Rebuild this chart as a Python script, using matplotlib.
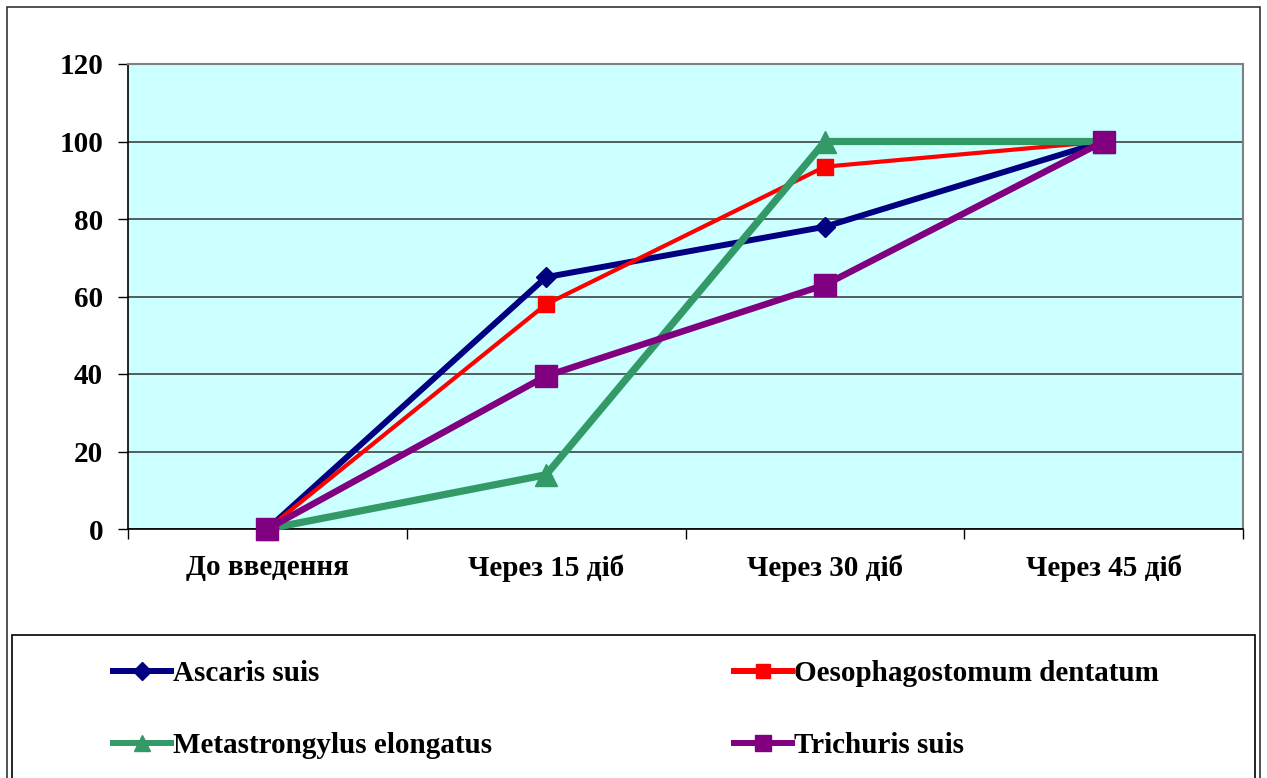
import numpy as np
import matplotlib.pyplot as plt
from matplotlib.lines import Line2D
from matplotlib.patches import Rectangle

categories = ["До введення", "Через 15 діб", "Через 30 діб", "Через 45 діб"]
ascaris = [0, 65, 78, 100]
oesophagostomum = [0, 58, 93.5, 100]
metastrongylus = [0, 14, 100, 100]
trichuris = [0, 39.5, 63, 100]

# name, values, colour, line width, marker, marker size, legend marker size
series = [
    ("Ascaris suis", ascaris, "#000080", 4.3, "D", 10.5, 9),
    ("Oesophagostomum dentatum", oesophagostomum, "#FF0000", 3.0, "s", 11.5, 10),
    ("Metastrongylus elongatus", metastrongylus, "#339966", 5.2, "^", 16, 12),
    ("Trichuris suis", trichuris, "#800080", 4.7, "s", 16, 11),
]

plt.rcParams['font.family'] = ['Liberation Serif', 'DejaVu Serif']
plt.rcParams['font.weight'] = 'bold'
FS = 21

W, H = 1267, 778
fig = plt.figure(figsize=(W / 100, H / 100), dpi=100)

# outer frame and legend frame
fig.patches.append(Rectangle((7 / W, -0.01), (1260 - 7) / W, 1 - 7 / H + 0.01,
                             transform=fig.transFigure, fill=False,
                             edgecolor='#333333', linewidth=1.2))
fig.patches.append(Rectangle((12 / W, -0.01), (1255 - 12) / W, (H - 635) / H + 0.01,
                             transform=fig.transFigure, fill=False,
                             edgecolor='black', linewidth=1.2))

ax = fig.add_axes([128 / W, (H - 529) / H, 1115 / W, 465 / H])
ax.set_facecolor('#CCFFFF')

x = np.arange(len(categories))
for name, vals, col, lw, mk, ms, lms in series:
    ax.plot(x, vals, color=col, linewidth=lw, marker=mk, markersize=ms,
            markerfacecolor=col, markeredgecolor=col, clip_on=False, zorder=3)

ax.set_xlim(-0.5, len(categories) - 0.5)
ax.set_ylim(0, 120)
ax.set_yticks(np.arange(0, 121, 20))
ax.yaxis.grid(True, color='#333333', linewidth=1.1)
ax.set_axisbelow(True)

ax.set_xticks(x)
ax.set_xticklabels(categories)
ax.set_xticks(np.arange(-0.5, len(categories), 1.0), minor=True)
ax.tick_params(axis='x', which='major', length=0, pad=18, labelsize=FS)
ax.tick_params(axis='x', which='minor', length=7, width=1, color='black')
ax.tick_params(axis='y', length=7, width=1, pad=11, labelsize=FS)

for s in ['top', 'right']:
    ax.spines[s].set_color('#808080')
    ax.spines[s].set_linewidth(1.5)
for s in ['left', 'bottom']:
    ax.spines[s].set_color('black')
    ax.spines[s].set_linewidth(1.2)

# legend: rows Ascaris / Oesophagostomum, Metastrongylus / Trichuris
order = [0, 2, 1, 3]
handles = []
labels = []
for i in order:
    name, vals, col, lw, mk, ms, lms = series[i]
    handles.append(Line2D([], [], color=col, linewidth=4.3, marker=mk, markersize=lms,
                          markerfacecolor=col, markeredgecolor=col))
    labels.append(name)
fig.legend(handles, labels, loc='upper left', bbox_to_anchor=(113 / W, 1 - 660 / H),
           ncol=2, frameon=False, fontsize=FS, handlelength=2.0, handletextpad=0.05,
           labelspacing=1.55, columnspacing=8.3, borderpad=0, borderaxespad=0)

fig.savefig('out.png', dpi=100)
